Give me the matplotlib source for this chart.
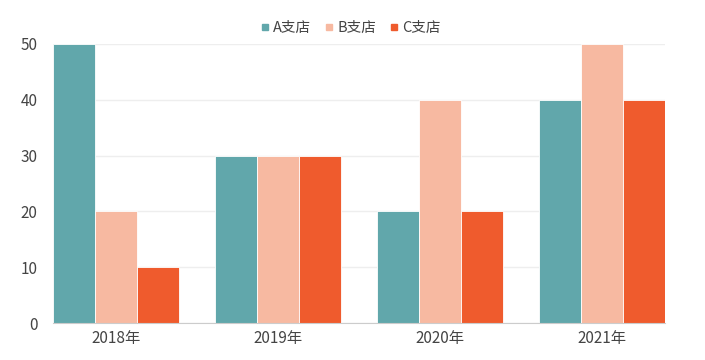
import numpy as np
import matplotlib.pyplot as plt
from matplotlib.lines import Line2D

plt.rcParams['font.family'] = ['Noto Sans CJK SC', 'DejaVu Sans']

years = ['2018年', '2019年', '2020年', '2021年']
storeA = [50, 30, 20, 40]
storeB = [20, 30, 40, 50]
storeC = [10, 30, 20, 40]
names = ['A支店', 'B支店', 'C支店']
colors = ['#61a7ab', '#f7b9a1', '#ef5b2d']

fig = plt.figure(figsize=(7.05, 3.6), dpi=100)
ax = fig.add_axes([53/705, 1-323/360, 612/705, 279/360])

x = np.arange(len(years))
w = 42/162
for i, (vals, c) in enumerate(zip([storeA, storeB, storeC], colors)):
    ax.bar(x + (i-1)*w, vals, width=w, color=c, edgecolor='white', linewidth=0.6, zorder=3)

ax.set_xlim(-63/162, 3 + 63/162)
ax.set_ylim(0, 50)
ax.set_yticks(range(0, 51, 10))
ax.set_xticks(x)
ax.set_xticklabels(years)
ax.grid(axis='y', color='#eeeeee', linewidth=1, zorder=0)
for s in ['top', 'right', 'left']:
    ax.spines[s].set_visible(False)
ax.spines['bottom'].set_color('#cccccc')
ax.spines['bottom'].set_zorder(4)
ax.tick_params(axis='both', length=0, labelsize=11, colors='#444444')
ax.tick_params(axis='y', pad=11)
ax.tick_params(axis='x', pad=5)

handles = [Line2D([], [], marker='s', linestyle='none', markersize=4, color=c) for c in colors]
fig.legend(handles, names, loc='center', bbox_to_anchor=(351/705, 1-28/360), ncol=3,
           frameon=False, fontsize=10.5, handlelength=0.5, handletextpad=0.3,
           columnspacing=1.0, labelcolor='#444444')

fig.savefig('out.png', dpi=100)
